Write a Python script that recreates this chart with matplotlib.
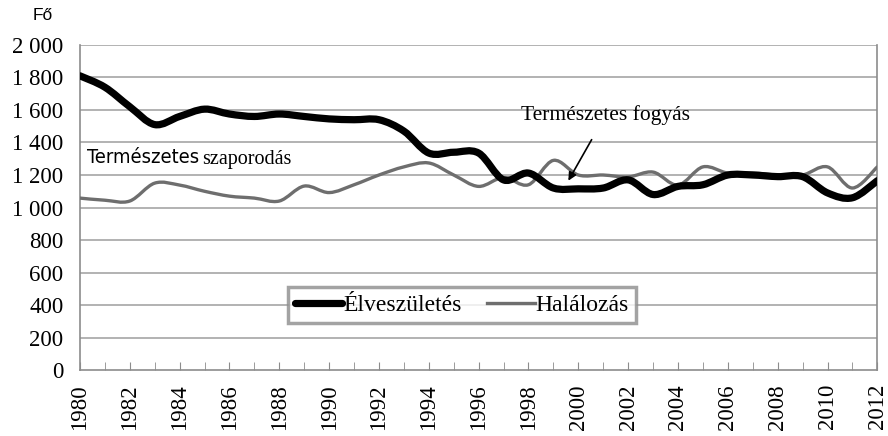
import matplotlib.pyplot as plt
from matplotlib.path import Path
from matplotlib.patches import PathPatch
from matplotlib.lines import Line2D
import numpy as np

years = list(range(1980, 2013))
births = [1810, 1740, 1620, 1510, 1560, 1605, 1575, 1560, 1575, 1560, 1545,
          1540, 1540, 1470, 1335, 1340, 1335, 1170, 1212, 1120, 1115, 1120,
          1170, 1080, 1130, 1140, 1200, 1200, 1190, 1190, 1090, 1060, 1165]
deaths = [1058, 1045, 1040, 1150, 1138, 1100, 1070, 1058, 1040, 1132, 1092,
          1140, 1200, 1250, 1274, 1200, 1130, 1185, 1140, 1290, 1200, 1200,
          1188, 1218, 1138, 1250, 1212, 1212, 1200, 1200, 1250, 1120, 1250]
series_labels = ['Élveszületés', 'Halálozás']
y_ticks = list(range(0, 2001, 200))
y_tick_labels = ['0' if v == 0 else f'{v:,}'.replace(',', ' ') for v in y_ticks]

SERIF = 'Liberation Serif'


def smooth_path(xs, ys):
    # Excel-like smoothed line: Catmull-Rom segments as cubic Bezier curves
    pts = np.column_stack([xs, ys]).astype(float)
    verts = [pts[0]]
    codes = [Path.MOVETO]
    n = len(pts)
    for i in range(n - 1):
        p0 = pts[max(i - 1, 0)]
        p1 = pts[i]
        p2 = pts[i + 1]
        p3 = pts[min(i + 2, n - 1)]
        verts += [p1 + (p2 - p0) / 6, p2 - (p3 - p1) / 6, p2]
        codes += [Path.CURVE4] * 3
    return Path(verts, codes)


fig = plt.figure(figsize=(8.88, 4.36), dpi=100)
ax = fig.add_axes([0.090, 0.151, 0.898, 0.746])

ax.set_xlim(1980, 2012)
ax.set_ylim(0, 2000)

for v in y_ticks[1:]:
    ax.axhline(v, color='#a6a6a6', lw=1.2, zorder=1)

ax.add_patch(PathPatch(smooth_path(years, deaths), fill=False,
                       edgecolor='#6e6e6e', lw=2.4, zorder=3,
                       capstyle='round', joinstyle='round'))
ax.add_patch(PathPatch(smooth_path(years, births), fill=False,
                       edgecolor='black', lw=5.2, zorder=4,
                       capstyle='round', joinstyle='round'))

for s in ['left', 'right', 'bottom']:
    ax.spines[s].set_color('#8c8c8c')
    ax.spines[s].set_linewidth(1.2)
ax.spines['top'].set_visible(False)

ax.set_yticks(y_ticks)
ax.set_yticklabels(y_tick_labels, fontfamily=SERIF, fontsize=16.5)
ax.tick_params(axis='y', length=0, pad=12)

ax.set_xticks(years[::2])
ax.set_xticklabels([str(y) for y in years[::2]], rotation=90,
                   fontfamily=SERIF, fontsize=16.5)
ax.set_xticks(years, minor=True)
ax.tick_params(axis='x', which='both', direction='in', length=6,
               color='#8c8c8c', pad=10)

fig.text(0.048, 0.964, 'Fő', fontfamily='Liberation Sans', fontsize=12.5,
         ha='center', va='center')

ax.text(1980.3, 1310, 'Természetes', fontfamily='DejaVu Sans',
        fontstretch='condensed', fontsize=14.5, va='center', ha='left')
ax.text(1984.9, 1295, 'szaporodás', fontfamily=SERIF, fontsize=14.5,
        va='center', ha='left')

ax.annotate('Természetes fogyás', xy=(1999.6, 1165), xytext=(2001.1, 1570),
            fontfamily=SERIF, fontsize=15.5, ha='center', va='center',
            arrowprops=dict(arrowstyle='-|>', color='black', lw=1.2,
                            shrinkA=10, shrinkB=0, mutation_scale=12))

handles = [Line2D([], [], color='black', lw=5.2, solid_capstyle='round'),
           Line2D([], [], color='#6e6e6e', lw=2.4)]
leg = ax.legend(handles, series_labels, loc='center',
                bbox_to_anchor=(0.479, 0.2), ncol=2, frameon=True,
                fancybox=False, prop={'family': SERIF, 'size': 17},
                handlelength=2.0, handletextpad=0.05, columnspacing=1.1,
                borderpad=0.3)
leg.get_frame().set_edgecolor('#8c8c8c')
leg.get_frame().set_linewidth(2.5)
leg.set_zorder(5)

fig.savefig('out.png', dpi=100)
